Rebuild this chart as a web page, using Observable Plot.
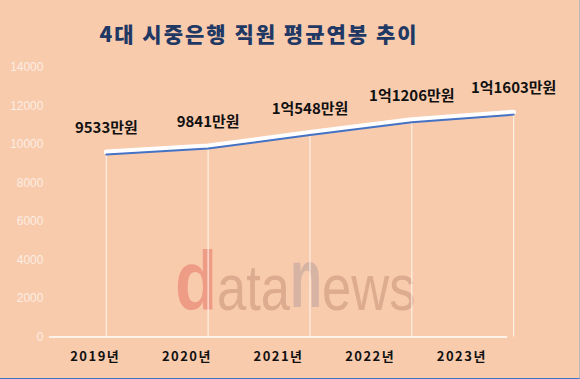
<!DOCTYPE html>
<html><head><meta charset="utf-8">
<script src="https://cdn.jsdelivr.net/npm/d3@7"></script>
<script src="https://cdn.jsdelivr.net/npm/@observablehq/plot@0.6"></script>
<style>
body{margin:0;background:#F8CBAD;}
#wrap{position:relative;width:580px;height:379px;background:#F8CBAD;overflow:hidden;font-family:"Noto Sans CJK KR",sans-serif;box-sizing:border-box;border-right:1px solid #b9b9b9;border-bottom:1px solid #4472C4;}
#title{position:absolute;left:0;top:0;width:518px;height:66px;line-height:66px;text-align:center;font-weight:900;font-size:21px;letter-spacing:2px;color:#1F3864;}
#chart{position:absolute;left:0;top:55px;}
#wm{position:absolute;left:175px;top:236px;font-family:"Liberation Sans",Arial,sans-serif;font-size:64px;line-height:90px;white-space:nowrap;transform:scaleX(0.82);transform-origin:left top;}
#wm .d{color:#EF9C86;font-weight:bold;font-size:84px;}
#wm .a{color:#DDAB90;}
#wm .n{color:#D6B3A3;font-weight:bold;display:inline-block;transform:scaleY(1.3);transform-origin:bottom;line-height:64px;}
</style></head>
<body>
<div id="wrap">
  <div id="title">4대 시중은행 직원 평균연봉 추이</div>
  <div id="wm"><span class="d">d</span><span class="a">ata</span><span class="n">n</span><span class="a">ews</span></div>
  <div id="chart"></div>
</div>
<script>
const years = ["2019년", "2020년", "2021년", "2022년", "2023년"];
const salaries = [9533, 9841, 10548, 11206, 11603];
const valueLabels = ["9533만원", "9841만원", "1억548만원", "1억1206만원", "1억1603만원"];
const yTicks = [0, 2000, 4000, 6000, 8000, 10000, 12000, 14000];

const data = years.map((y, i) => ({year: y, value: salaries[i], label: valueLabels[i]}));

const plot = Plot.plot({
  width: 580,
  height: 324,
  marginLeft: 49,
  marginRight: 72,
  marginTop: 12,
  marginBottom: 42,
  style: {background: "transparent", overflow: "visible"},
  x: {type: "point", domain: years, range: [105, 515], padding: 0, label: null},
  y: {domain: [0, 14000], label: null},
  marks: [
    Plot.axisY(yTicks, {tickSize: 0, tickPadding: 6, tickFormat: d => String(d), fill: "#FCEDE3", fontSize: 12, fontFamily: "Liberation Sans, Arial, sans-serif", label: null}),
    Plot.ruleX(data, {x: "year", y1: 0, y2: "value", stroke: "#FFF6F0", strokeWidth: 1.2, strokeOpacity: 0.85}),
    Plot.ruleY([0], {stroke: "#FDF1E8", strokeWidth: 2}),
    Plot.lineY(data, {x: "year", y: "value", stroke: "white", strokeWidth: 5, dy: -1.5}),
    Plot.lineY(data, {x: "year", y: "value", stroke: "#4472C4", strokeWidth: 2, dy: 1}),
    Plot.text(data, {x: "year", y: "value", text: "label", dy: -25, fontSize: 15, fontWeight: "bold", fill: "#111", fontFamily: "Noto Sans CJK KR, sans-serif"}),
    Plot.axisX(years, {tickSize: 0, tickPadding: 15, fontSize: 13, fontWeight: "bold", fill: "#111", fontFamily: "Noto Sans CJK KR, sans-serif", label: null})
  ]
});
document.getElementById("chart").appendChild(plot);
// category labels sit centred in the category bands of the axis baseline (Excel-style), not under the points
const xs = plot.scale("x");
const band = d3.scaleBand(years, [49, 508]);
d3.select(plot).selectAll('[aria-label="x-axis tick label"] text')
  .each(function (d, i) {
    const y = years[i];
    const shift = band(y) + band.bandwidth() / 2 - xs.apply(y);
    d3.select(this).attr("dx", shift).style("letter-spacing", "1.5px");
  });
</script>
</body></html>
